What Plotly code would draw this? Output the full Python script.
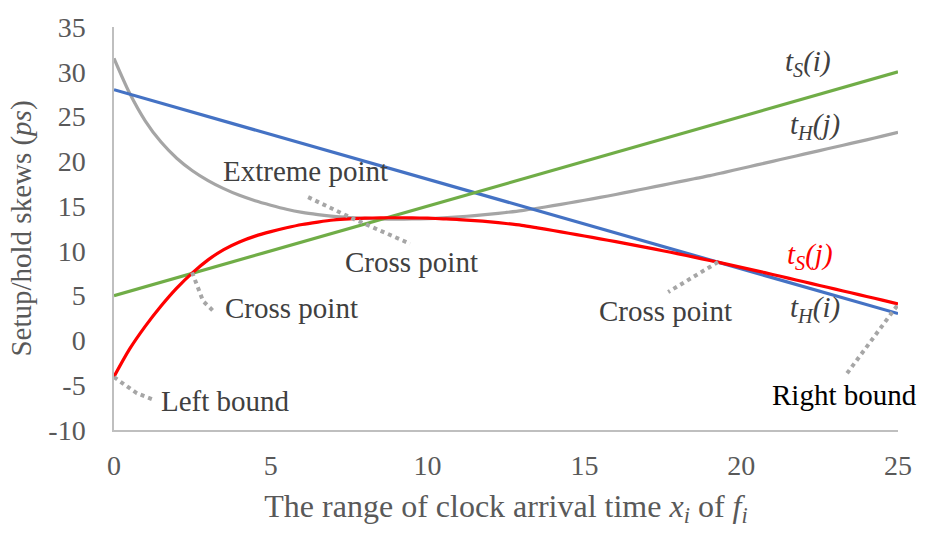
import plotly.graph_objects as go

# ---------------- data ----------------
x_line = [0, 25]
t_H_i = [28, 3]          # blue
t_S_i = [5, 30]          # green

x_curve = [i * 0.5 for i in range(51)]
t_H_j = [31.5, 27.6, 24.5, 22.15, 20.35, 18.95, 17.85, 16.95, 16.2, 15.6,
         15.1, 14.65, 14.3, 14.05, 13.85, 13.72, 13.62, 13.57, 13.55, 13.56,
         13.6, 13.68, 13.8, 13.94, 14.1, 14.29, 14.5, 14.76, 15.05, 15.35,
         15.65, 15.97, 16.3, 16.65, 17.0, 17.35, 17.7, 18.05, 18.4, 18.8,
         19.2, 19.6, 20.0, 20.4, 20.8, 21.2, 21.6, 22.0, 22.4, 22.82, 23.25]   # gray
t_S_j = [-4.05, -0.95, 1.6, 3.85, 5.85, 7.55, 9.0, 10.15, 11.0, 11.65,
         12.15, 12.58, 12.95, 13.22, 13.45, 13.58, 13.65, 13.69, 13.7, 13.69,
         13.65, 13.58, 13.5, 13.38, 13.24, 13.06, 12.85, 12.57, 12.28, 11.97,
         11.66, 11.35, 11.03, 10.7, 10.37, 10.02, 9.67, 9.3, 8.93, 8.55,
         8.16, 7.77, 7.37, 6.96, 6.55, 6.14, 5.73, 5.32, 4.91, 4.5, 4.09]      # red

x_ticks = [0, 5, 10, 15, 20, 25]
y_ticks = [-10, -5, 0, 5, 10, 15, 20, 25, 30, 35]

# ---------------- styling ----------------
FONT = "Liberation Serif"
TXT = "#404040"
TICK = "#595959"
DOT = "#A6A6A6"

fig = go.Figure()
fig.add_trace(go.Scatter(x=x_curve, y=t_H_j, mode="lines", line=dict(color="#A5A5A5", width=3.2, shape="spline", smoothing=0.8)))
fig.add_trace(go.Scatter(x=x_line, y=t_H_i, mode="lines", line=dict(color="#4472C4", width=3.2)))
fig.add_trace(go.Scatter(x=x_line, y=t_S_i, mode="lines", line=dict(color="#70AD47", width=3.2)))
fig.add_trace(go.Scatter(x=x_curve, y=t_S_j, mode="lines", line=dict(color="#FF0000", width=3.2, shape="spline", smoothing=0.8)))

# dotted callout leaders (layout geometry)
leaders = [
    [(6.19, 16.0), (7.62, 13.6), (9.44, 10.8)],
    [(2.49, 7.6), (2.84, 4.4), (3.22, 3.1)],
    [(0.0, -4.1), (0.73, -5.9), (1.25, -6.6)],
    [(19.26, 8.75), (17.67, 5.4)],
    [(24.97, 3.87), (23.37, -3.7)],
]
for pts in leaders:
    path = "M " + " L ".join(f"{px},{py}" for px, py in pts)
    fig.add_shape(type="path", path=path, xref="x", yref="y",
                  line=dict(color=DOT, width=4, dash="dot"))

labels = [
    ("Extreme point", 6.12, 18.9, TXT),
    ("Cross point", 9.49, 8.8, TXT),
    ("Cross point", 5.66, 3.6, TXT),
    ("Left bound", 3.54, -6.8, TXT),
    ("Cross point", 17.57, 3.3, TXT),
    ("Right bound", 23.3, -6.1, "#000000"),
    ("<i>t<sub>S</sub>(i)</i>", 22.13, 31.0, TXT),
    ("<i>t<sub>H</sub>(j)</i>", 22.35, 23.9, TXT),
    ("<i>t<sub>S</sub>(j)</i>", 22.2, 9.4, "#FF0000"),
    ("<i>t<sub>H</sub>(i)</i>", 22.35, 3.5, TXT),
]
for text, ax_, ay_, col in labels:
    fig.add_annotation(x=ax_, y=ay_, xref="x", yref="y", text=text, showarrow=False,
                       font=dict(family=FONT, size=29, color=col),
                       xanchor="center", yanchor="middle")

fig.update_layout(
    width=927, height=537,
    margin=dict(l=114, r=29, t=15, b=107),
    paper_bgcolor="white", plot_bgcolor="white",
    showlegend=False,
    font=dict(family=FONT, size=28, color=TICK),
)
fig.update_xaxes(range=[0, 25], tickvals=x_ticks, ticktext=[str(v) for v in x_ticks],
                 showgrid=False, zeroline=False, showline=True, linecolor="#BFBFBF", linewidth=1.5,
                 ticks="outside", ticklen=10, tickcolor="rgba(0,0,0,0)", ticklabeloverflow="allow",
                 tickfont=dict(family=FONT, size=28, color=TICK),
                 title=dict(text="The range of clock arrival time <i>x<sub>i</sub></i> of <i>f<sub>i</sub></i>",
                            font=dict(family=FONT, size=32, color=TICK), standoff=14))
fig.update_yaxes(range=[-10, 35], tickvals=y_ticks, ticktext=[str(v) for v in y_ticks],
                 showgrid=False, zeroline=False, showline=True, linecolor="#BFBFBF", linewidth=1.5,
                 ticks="outside", ticklen=21, tickcolor="rgba(0,0,0,0)", ticklabeloverflow="allow",
                 tickfont=dict(family=FONT, size=28, color=TICK),
                 title=dict(text="Setup/hold skews (<i>ps</i>)",
                            font=dict(family=FONT, size=29, color=TICK), standoff=8))

fig.write_html("out.html")
